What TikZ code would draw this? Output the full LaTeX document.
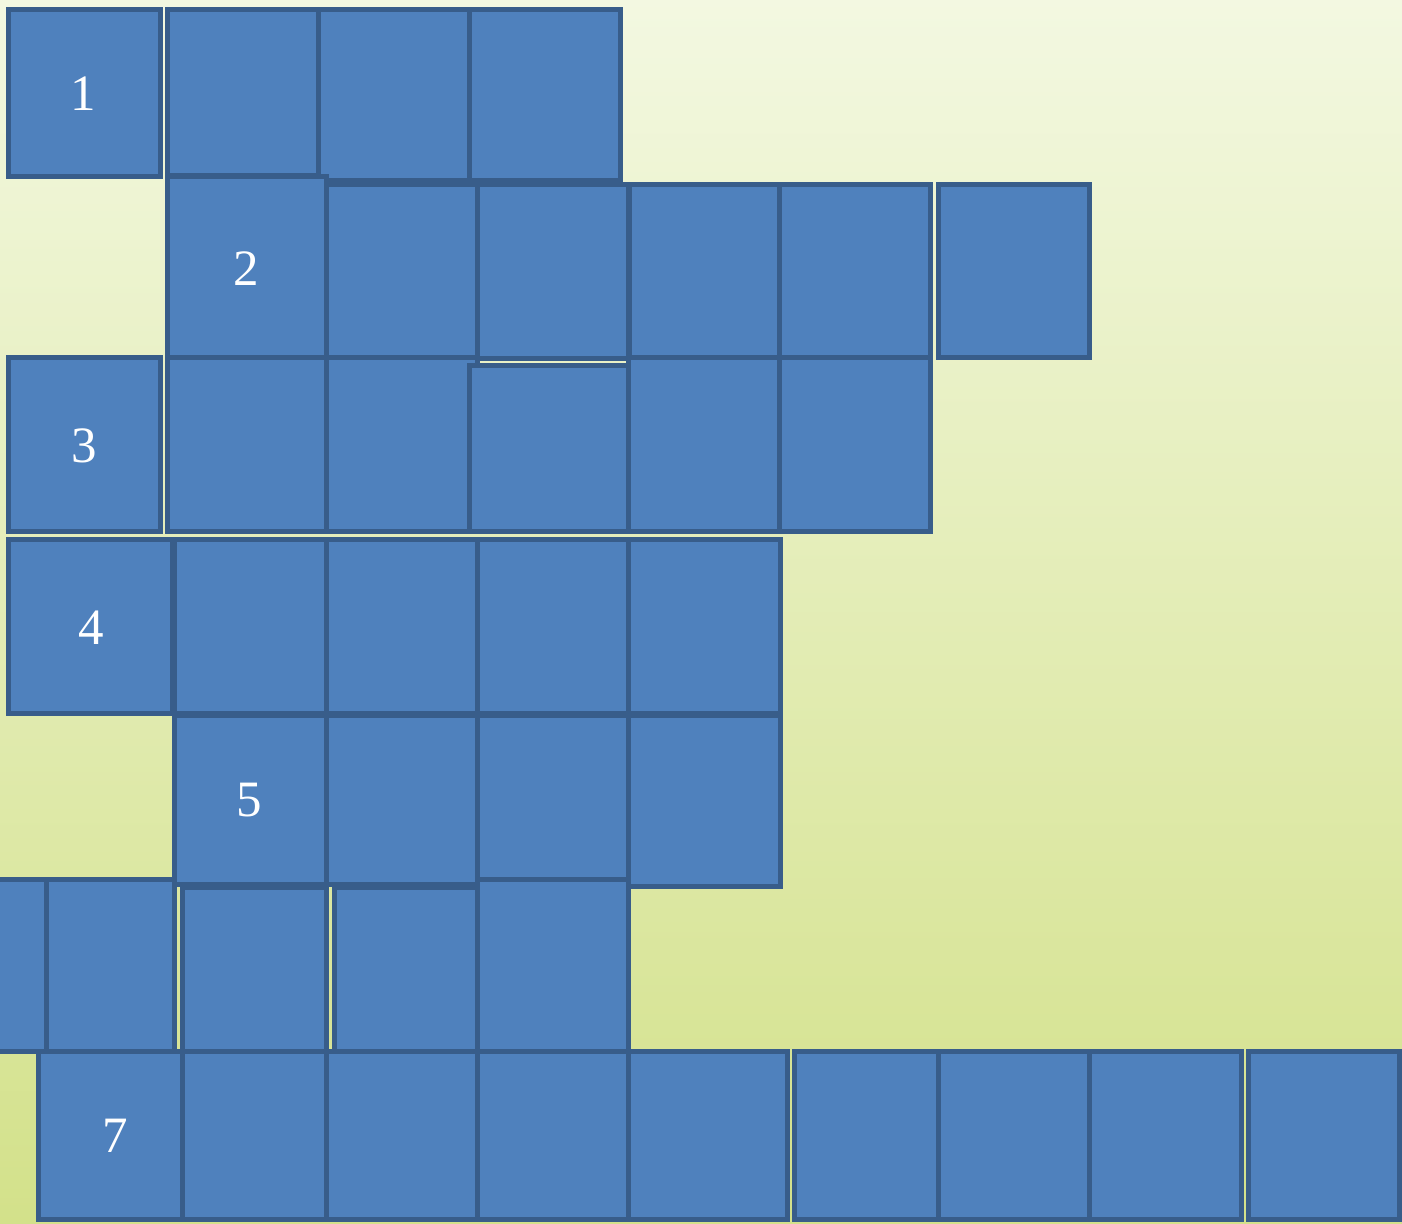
\documentclass[tikz,border=0pt]{standalone}
\usepackage{fontspec}
\setmainfont{Liberation Serif}
\usepackage{tikz}
\usetikzlibrary{positioning}

\definecolor{cellfill}{HTML}{4F81BD}
\definecolor{celledge}{HTML}{385D8A}
\definecolor{bgtop}{RGB}{243,248,225}
\definecolor{bgbottom}{RGB}{211,225,138}

\tikzset{
  cell/.style={fill=cellfill, draw=celledge, line width=0.05cm},
  cellnum/.style={text=white, inner sep=0pt, font=\fontsize{14.5}{17}\selectfont}
}

\begin{document}
\begin{tikzpicture}[x=0.01cm,y=-0.01cm]
        \clip (0,0) rectangle (1402,1224);
        \shade[top color=bgtop, bottom color=bgbottom] (0,0) rectangle (1402,1224);
        % row 1
        \foreach \xa/\ya/\xb/\yb in {8.5/9.5/160.5/176.5, 167.5/9.5/318.5/175.5,
            318.5/9.5/469.5/180.5, 469.5/9.5/620.5/180.5}
            \draw[cell] (\xa,\ya) rectangle (\xb,\yb);
        % row 2
        \foreach \xa/\ya/\xb/\yb in {167.5/176.5/326.5/358.5, 326.5/184.5/477.5/358.5,
            477.5/184.5/628.5/358.5, 629.5/184.5/779.5/358.5, 779.5/184.5/930.5/358.5,
            938.5/184.5/1089.5/357.5}
            \draw[cell] (\xa,\ya) rectangle (\xb,\yb);
        % row 3
        \foreach \xa/\ya/\xb/\yb in {8.5/357.5/160.5/531.5, 167.5/357.5/326.5/531.5,
            326.5/357.5/477.5/531.5, 469.5/365.5/628.5/531.5, 628.5/357.5/780.5/531.5,
            779.5/357.5/930.5/531.5}
            \draw[cell] (\xa,\ya) rectangle (\xb,\yb);
        % row 4
        \foreach \xa/\ya/\xb/\yb in {8.5/539.5/172.5/713.5, 174.5/539.5/326.5/713.5,
            326.5/539.5/477.5/713.5, 477.5/539.5/628.5/713.5, 628.5/539.5/780.5/713.5}
            \draw[cell] (\xa,\ya) rectangle (\xb,\yb);
        % row 5
        \foreach \xa/\ya/\xb/\yb in {174.5/715.5/326.5/884.5, 326.5/715.5/477.5/884.5,
            477.5/715.5/628.5/884.5, 628.5/715.5/780.5/886.5}
            \draw[cell] (\xa,\ya) rectangle (\xb,\yb);
        % row 6
        \foreach \xa/\ya/\xb/\yb in {-20/879.5/46.5/1051.5, 46.5/879.5/174.5/1051.5,
            182.5/887.5/326.5/1051.5, 334.5/887.5/477.5/1051.5, 477.5/879.5/628.5/1051.5}
            \draw[cell] (\xa,\ya) rectangle (\xb,\yb);
        % row 7
        \foreach \xa/\xb in {38.5/182.5, 182.5/326.5, 326.5/477.5, 477.5/628.5,
            628.5/787.5, 794.5/938.5, 938.5/1090.5, 1089.5/1241.5, 1248.5/1399.5}
            \draw[cell] (\xa,1051.5) rectangle (\xb,1219.5);
        \node[cellnum] (n1) at (83.5,94) {1};
        \node[cellnum] (n2) at (246.5,268.5) {2};
        \node[cellnum] (n3) at (84,446) {3};
        \node[cellnum] (n4) at (91.5,627.5) {4};
        \node[cellnum] (n5) at (249.5,800) {5};
        \node[cellnum] (n7) at (115,1136) {7};
    \end{tikzpicture}
\end{document}
